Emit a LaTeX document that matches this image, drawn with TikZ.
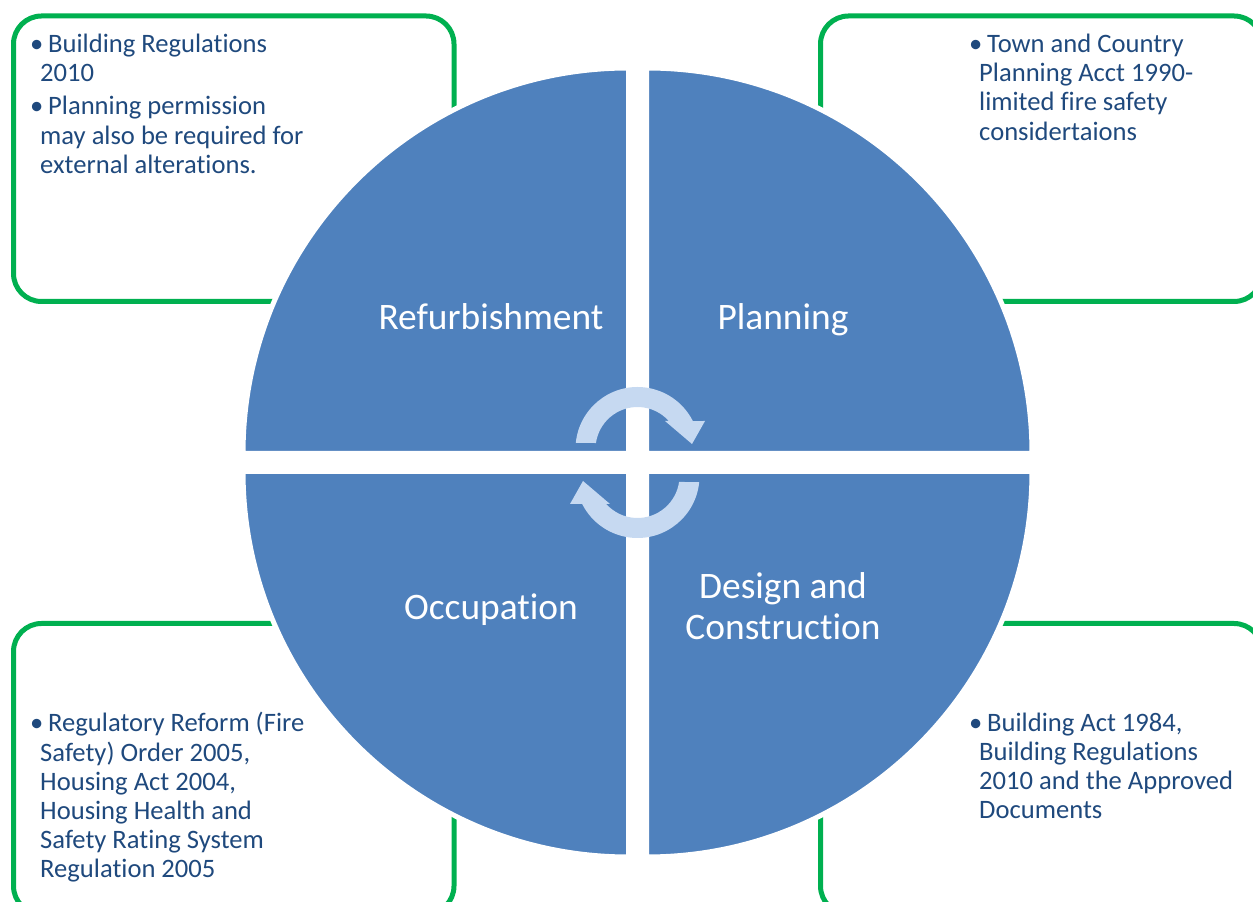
\documentclass[tikz,border=0pt]{standalone}
\usepackage{fontspec}
\setmainfont{Carlito}[Ligatures=NoCommon]
\usetikzlibrary{positioning}

\definecolor{quadblue}{HTML}{4F81BD}
\definecolor{arrowblue}{HTML}{C6D9F1}
\definecolor{boxgreen}{HTML}{00B050}
\definecolor{textblue}{HTML}{1F497D}
\newcommand{\bitem}{\makebox[18pt][l]{\textbullet}}
\newcommand{\cont}{\hspace*{10pt}}

\begin{document}
\begin{tikzpicture}[x=1pt, y=1pt,
    law box/.style={draw=boxgreen, line width=5pt, rounded corners=28pt},
    law text/.style={text=textblue, font=\fontsize{26.6}{29.2}\selectfont, align=left, anchor=base west, inner sep=0pt},
    quadrant/.style={fill=quadblue, draw=white, line width=5pt},
    stage/.style={text=white, font=\fontsize{37.4}{41}\selectfont, align=center, anchor=base, inner sep=0pt},
    cycle arrow/.style={fill=arrowblue},
]
\useasboundingbox (0,0) rectangle (1253,902);

% green boxes with the legislation (nodes sit on their last baseline)
\draw[law box] (13.5,600.5) rectangle (454,886);
\draw[law box] (820.5,600.5) rectangle (1262,886);
\draw[law box] (13.5,-12) rectangle (454,278.5);
\draw[law box] (820.5,-12) rectangle (1262,278.5);

\node[law text] (refurbLaw) at (30,728.6)
  {\bitem Building Regulations\\ \cont 2010\\[4pt]
   \bitem Planning permission\\ \cont may also be required for\\ \cont external alterations.};
\node[law text] (planLaw) at (969,761.8)
  {\bitem Town and Country\\ \cont Planning Acct 1990-\\ \cont limited fire safety\\ \cont considertaions};
\node[law text] (occupLaw) at (30,24)
  {\bitem Regulatory Reform (Fire\\ \cont Safety) Order 2005,\\ \cont Housing Act 2004,\\
   \cont Housing Health and\\ \cont Safety Rating System\\ \cont Regulation 2005};
\node[law text] (designLaw) at (969,83)
  {\bitem Building Act 1984,\\ \cont Building Regulations\\ \cont 2010 and the Approved\\ \cont Documents};

% the four quarters of the cycle
\draw[quadrant] (628.5,448.5) -- ++(-385.5,0) arc[start angle=180, end angle=90, radius=385.5] -- cycle;
\draw[quadrant] (646.5,448.5) -- ++(0,385.5) arc[start angle=90, end angle=0, radius=385.5] -- cycle;
\draw[quadrant] (628.5,430.5) -- ++(0,-385.5) arc[start angle=270, end angle=180, radius=385.5] -- cycle;
\draw[quadrant] (646.5,430.5) -- ++(385.5,0) arc[start angle=0, end angle=-90, radius=385.5] -- cycle;

\node[stage] (refurb) at (491,572) {Refurbishment};
\node[stage] (planning) at (783,572) {Planning};
\node[stage] (occupation) at (491,282) {Occupation};
\node[stage] (design) at (783,262) {Design and\\Construction};

% circular arrows
\begin{scope}[shift={(637.5,453)}]
  \fill[cycle arrow] (174.4:62) arc[start angle=174.4, end angle=26.8, radius=62]
    -- (67.5,28) -- (54.5,5) -- (27.5,28) -- (41.8:42)
    arc[start angle=41.8, end angle=171.8, radius=42] -- cycle;
\end{scope}
\begin{scope}[shift={(637.5,426)}, rotate=180]
  \fill[cycle arrow] (174.4:62) arc[start angle=174.4, end angle=26.8, radius=62]
    -- (67.5,28) -- (54.5,5) -- (27.5,28) -- (41.8:42)
    arc[start angle=41.8, end angle=171.8, radius=42] -- cycle;
\end{scope}
\end{tikzpicture}
\end{document}
